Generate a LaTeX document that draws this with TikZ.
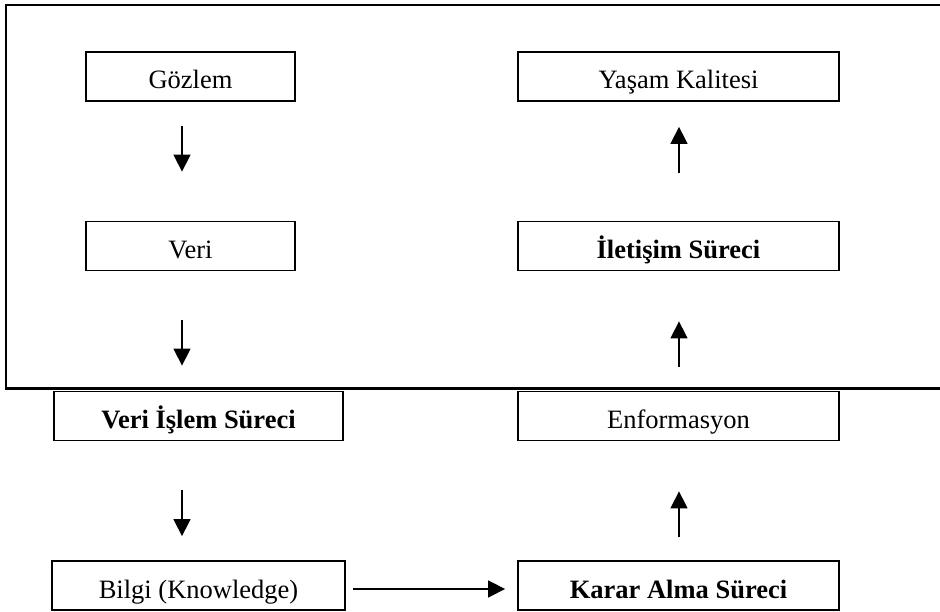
\documentclass[tikz,border=0pt]{standalone}
\usepackage{fontspec}
\setmainfont{Liberation Serif}
\usetikzlibrary{arrows.meta}
\begin{document}
\begin{tikzpicture}[x=1pt,y=-1pt,
  box/.style={draw, line width=1.8pt, inner sep=0pt, minimum height=49pt,
    text height=26pt, text depth=1pt,
    font=\fontsize{26.5}{30}\selectfont},
  arr/.style={line width=1.5pt, -{Triangle[length=17pt,width=17pt]}},
  frame/.style={line width=2.2pt}]
\useasboundingbox (0,0) rectangle (940,612);

% open frame around the upper part
\draw[frame] (940,5) -- (6,5) -- (6,388.5) -- (940,388.5);

% left column
\node[box, minimum width=209pt] (gozlem) at (190.5,76.5) {Gözlem};
\node[box, minimum width=209pt] (veri) at (190.5,246) {Veri};
\node[box, minimum width=289pt] (islem) at (198.5,416) {\textbf{Veri İşlem Süreci}};
\node[box, minimum width=293pt] (bilgi) at (198.5,585.5) {Bilgi (Knowledge)};

% right column
\node[box, minimum width=321pt] (yasam) at (678.5,76.5) {Yaşam Kalitesi};
\node[box, minimum width=321pt] (iletisim) at (678.5,246) {\textbf{İletişim Süreci}};
\node[box, minimum width=321pt] (enf) at (678.5,416) {Enformasyon};
\node[box, minimum width=321pt] (karar) at (678.5,585.5) {\textbf{Karar Alma Süreci}};

% downward arrows
\draw[arr] ([xshift=-8.5pt,yshift=-24pt]gozlem.south) -- ([xshift=-8.5pt,yshift=49pt]veri.north);
\draw[arr] ([xshift=-8.5pt,yshift=-49pt]veri.south) -- ([xshift=-16.5pt,yshift=25pt]islem.north);
\draw[arr] ([xshift=-16.5pt,yshift=-49pt]islem.south) -- ([xshift=-16.5pt,yshift=24pt]bilgi.north);

% across
\draw[arr] ([xshift=7pt,yshift=-3.5pt]bilgi.east) -- ([xshift=-12pt,yshift=-3.5pt]karar.west);

% upward arrows
\draw[arr] ([xshift=0.5pt,yshift=23pt]karar.north) -- ([xshift=0.5pt,yshift=-50pt]enf.south);
\draw[arr] ([xshift=0.5pt,yshift=24pt]enf.north) -- ([xshift=0.5pt,yshift=-50pt]iletisim.south);
\draw[arr] ([xshift=0.5pt,yshift=48pt]iletisim.north) -- ([xshift=0.5pt,yshift=-25pt]yasam.south);
\end{tikzpicture}
\end{document}
